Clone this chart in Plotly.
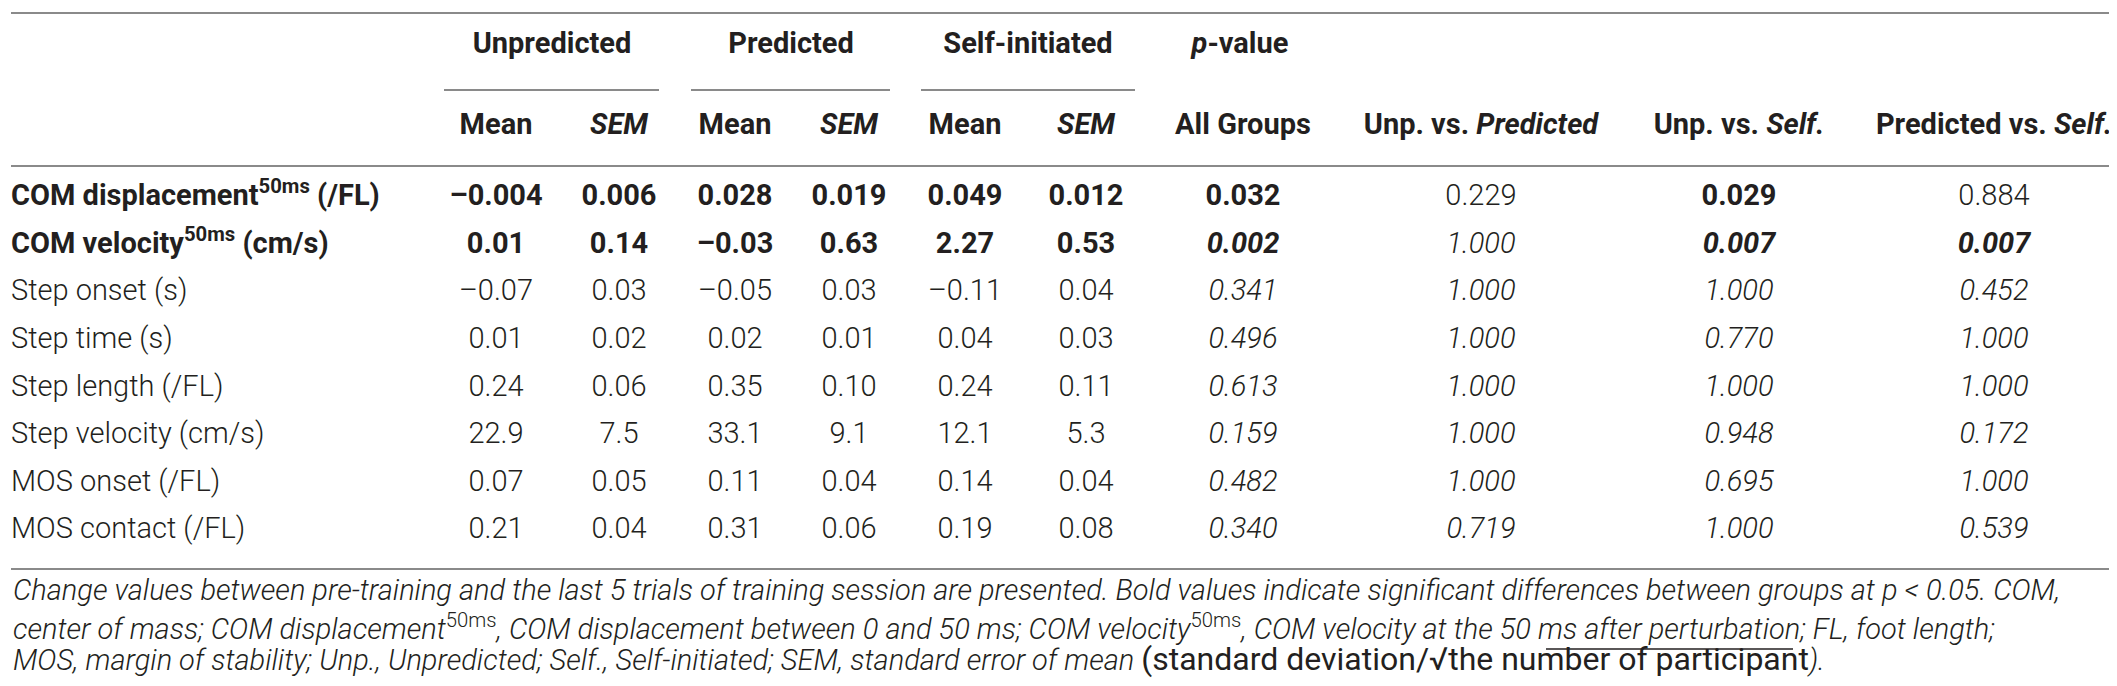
import plotly.graph_objects as go

# ---------------- data ----------------
row_labels = [
    "COM displacement<sup>50ms</sup> (/FL)",
    "COM velocity<sup>50ms</sup> (cm/s)",
    "Step onset (s)",
    "Step time (s)",
    "Step length (/FL)",
    "Step velocity (cm/s)",
    "MOS onset (/FL)",
    "MOS contact (/FL)",
]
decimals = [3, 2, 2, 2, 2, 1, 2, 2]

unp_mean = [-0.004, 0.01, -0.07, 0.01, 0.24, 22.9, 0.07, 0.21]
unp_sem = [0.006, 0.14, 0.03, 0.02, 0.06, 7.5, 0.05, 0.04]
pred_mean = [0.028, -0.03, -0.05, 0.02, 0.35, 33.1, 0.11, 0.31]
pred_sem = [0.019, 0.63, 0.03, 0.01, 0.10, 9.1, 0.04, 0.06]
self_mean = [0.049, 2.27, -0.11, 0.04, 0.24, 12.1, 0.14, 0.19]
self_sem = [0.012, 0.53, 0.04, 0.03, 0.11, 5.3, 0.04, 0.08]

p_all = [0.032, 0.002, 0.341, 0.496, 0.613, 0.159, 0.482, 0.340]
p_unp_pred = [0.229, 1.000, 1.000, 1.000, 1.000, 1.000, 1.000, 0.719]
p_unp_self = [0.029, 0.007, 1.000, 0.770, 1.000, 0.948, 0.695, 1.000]
p_pred_self = [0.884, 0.007, 0.452, 1.000, 1.000, 0.172, 1.000, 0.539]

group_headers = ["Unpredicted", "Predicted", "Self-initiated", "<i>p</i>-value"]
sub_headers = ["Mean", "<i>SEM</i>", "Mean", "<i>SEM</i>", "Mean", "<i>SEM</i>",
               "All Groups", "Unp. vs. <i>Predicted</i>", "Unp. vs. <i>Self.</i>",
               "Predicted vs. <i>Self.</i>"]

footnotes = [
    "<i>Change values between pre-training and the last 5 trials of training session are presented. "
    "Bold values indicate significant differences between groups at p &lt; 0.05. COM,</i>",
    "<i>center of mass; COM displacement</i><sup>50ms</sup><i>, COM displacement between 0 and 50 ms; "
    "COM velocity</i><sup>50ms</sup><i>, COM velocity at the 50 ms after perturbation; FL, foot length;</i>",
    "<i>MOS, margin of stability; Unp., Unpredicted; Self., Self-initiated; SEM, standard error of mean </i>"
    "<span style=\"font-weight:400;font-size:32px\">(standard deviation/√the number of participant</span><i>).</i>",
]

# ---------------- layout constants ----------------
W, H = 2117, 686
FONT = "Roboto"
TXT = "#231f20"
RULE = "#8a8a8a"
FS = 29
FOOT_FS = 29
label_x = 3
num_cols_x = [488, 611, 727, 841, 957, 1078]
p_cols_x = [1235, 1473, 1731, 1986]
group_x = [544, 783, 1020, 1232]
group_lines = [(436, 651), (683, 882), (913, 1127)]
y_group, y_gline, y_sub, y_rule = 38, 82, 119, 158
row_y0, row_step = 190, 47.6
y_bottom = 561
foot_y = [582, 619, 651]
overline = (1538, 1785, 641)

rows_y = [row_y0 + i * row_step for i in range(len(row_labels))]
sig_rows = [p < 0.05 for p in p_all]
p_italic = [i > 0 for i in range(len(row_labels))]


def fmt(v, d):
    s = f"{abs(v):.{d}f}"
    return ("–" + s) if v < 0 else s


def wrap(s, b=False, it=False):
    if it:
        s = f"<i>{s}</i>"
    if b:
        s = f"<b>{s}</b>"
    return s


fig = go.Figure()


def text_trace(xs, ys, texts, pos="middle center", size=FS):
    fig.add_trace(go.Scatter(
        x=xs, y=ys, text=texts, mode="text", textposition=pos,
        textfont=dict(family=FONT, size=size, color=TXT, weight=300),
        hoverinfo="skip", showlegend=False, cliponaxis=False,
    ))


# row labels
text_trace([label_x] * len(row_labels), rows_y,
           [wrap(l, b=sig_rows[i]) for i, l in enumerate(row_labels)], pos="middle right")

# mean / SEM columns
for cx, vals in zip(num_cols_x, [unp_mean, unp_sem, pred_mean, pred_sem, self_mean, self_sem]):
    text_trace([cx] * len(vals), rows_y,
               [wrap(fmt(v, decimals[i]), b=sig_rows[i]) for i, v in enumerate(vals)])

# p-value columns
for cx, vals in zip(p_cols_x, [p_all, p_unp_pred, p_unp_self, p_pred_self]):
    text_trace([cx] * len(vals), rows_y,
               [wrap(f"{v:.3f}", b=v < 0.05, it=p_italic[i]) for i, v in enumerate(vals)])

# headers
text_trace(group_x, [y_group] * len(group_x), [wrap(h, b=True) for h in group_headers])
text_trace(num_cols_x + p_cols_x, [y_sub] * len(sub_headers), [wrap(h, b=True) for h in sub_headers])

# rules
shapes = []
for yy in (5, y_rule, y_bottom):
    shapes.append(dict(type="line", xref="x", yref="y", x0=3, x1=2112, y0=yy, y1=yy,
                       line=dict(color=RULE, width=2)))
for a, b in group_lines:
    shapes.append(dict(type="line", xref="x", yref="y", x0=a, x1=b, y0=y_gline, y1=y_gline,
                       line=dict(color=RULE, width=2)))
# overline of the square root in the footnote
shapes.append(dict(type="line", xref="x", yref="y", x0=overline[0], x1=overline[1],
                   y0=overline[2], y1=overline[2], line=dict(color=TXT, width=1.5)))

annotations = []
for fy, ft in zip(foot_y, footnotes):
    annotations.append(dict(x=label_x, y=fy, xref="x", yref="y", text=ft, showarrow=False,
                            xanchor="left", yanchor="middle",
                            font=dict(family=FONT, size=FOOT_FS, color=TXT, weight=300)))

fig.update_layout(
    width=W, height=H, margin=dict(l=0, r=0, t=0, b=0),
    paper_bgcolor="white", plot_bgcolor="white",
    xaxis=dict(range=[0, W], visible=False, fixedrange=True),
    yaxis=dict(range=[H, 0], visible=False, fixedrange=True),
    shapes=shapes, annotations=annotations,
)

fig.write_html("out.html")
